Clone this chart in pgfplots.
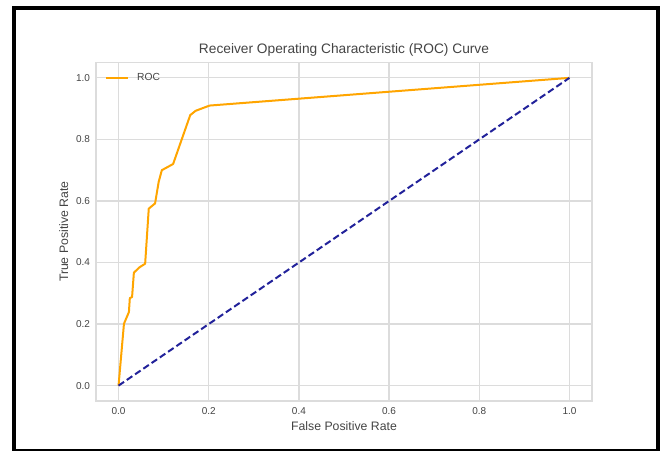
\documentclass[border=0pt]{standalone}
\usepackage{pgfplots}
\pgfplotsset{compat=1.18}
\usepackage{fontspec}
\setmainfont{Liberation Sans}

\definecolor{roc}{HTML}{FFA500}
\definecolor{diag}{HTML}{22229A}
\definecolor{gridc}{HTML}{DCDCDC}
\definecolor{txt}{HTML}{444444}

\begin{document}
\begin{tikzpicture}
  % page extent and the black screenshot frame
  \path[use as bounding box] (-72pt,-36.75pt) rectangle (427.5pt,300.75pt);
  \draw[black, line width=3pt] (-61.5pt,-37.5pt) rectangle (421.5pt,294.75pt);

  \begin{axis}[
      at={(0,0)}, anchor=south west,
      scale only axis,
      width=372pt, height=253.9pt,
      xmin=-0.05, xmax=1.05,
      ymin=-0.05, ymax=1.05,
      xtick={0,0.2,0.4,0.6,0.8,1.0},
      ytick={0,0.2,0.4,0.6,0.8,1.0},
      xticklabels={0.0,0.2,0.4,0.6,0.8,1.0},
      yticklabels={0.0,0.2,0.4,0.6,0.8,1.0},
      grid=major,
      grid style={gridc, line width=0.9pt},
      axis line style={gridc, line width=0.9pt},
      major tick style={draw=none},
      ticklabel style={font=\fontsize{7.5}{8.5}\selectfont, text=txt},
      xticklabel style={yshift=-1pt},
      yticklabel style={xshift=-1pt},
      title={Receiver Operating Characteristic (ROC) Curve},
      title style={font=\fontsize{10.3}{12}\selectfont, text=txt, yshift=-5pt},
      xlabel={False Positive Rate},
      ylabel={True Positive Rate},
      label style={font=\fontsize{9.2}{10.5}\selectfont, text=txt},
      xlabel style={yshift=1pt},
      ylabel style={yshift=-1pt},
      legend style={draw=none, fill=none, at={(0.01,0.985)}, anchor=north west,
        font=\fontsize{7.7}{9}\selectfont, text=txt},
      legend cell align=left,
      legend image code/.code={\draw[#1] (0cm,0cm) -- (0.58cm,0cm);
        \path (0.58cm+4pt,0cm);},
    ]
    \addplot[roc, line width=1.5pt, line join=round] coordinates {
      (0,0) (0.012,0.201) (0.023,0.239) (0.025,0.284) (0.030,0.288)
      (0.034,0.367) (0.047,0.385) (0.059,0.396) (0.067,0.575)
      (0.081,0.592) (0.089,0.662) (0.096,0.700) (0.121,0.720)
      (0.159,0.879) (0.171,0.893) (0.202,0.910) (1,1)
    };
    \addlegendentry{ROC}
    \addplot[diag, line width=1.5pt, dash pattern=on 5pt off 2.5pt] coordinates {
      (0,0) (1,1)
    };
  \end{axis}
\end{tikzpicture}
\end{document}
